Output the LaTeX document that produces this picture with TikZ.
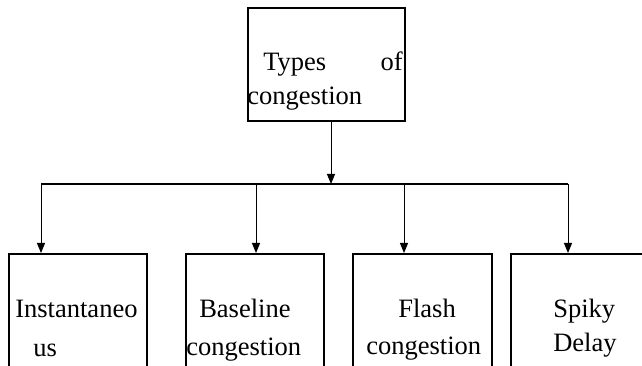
\documentclass[tikz,border=0pt]{standalone}
\usepackage{fontspec}
\setmainfont{Liberation Serif}
\usepackage{tikz}
\usetikzlibrary{arrows.meta, positioning, calc}

\begin{document}
\begin{tikzpicture}[x=0.75pt, y=-0.75pt,
	font=\fontsize{19.9}{24}\selectfont,
	box/.style={draw, line width=1.3pt, inner sep=0pt, anchor=north west},
	word/.style={inner sep=0pt, anchor=base west},
	drop/.style={draw, line width=0.75pt, -{Triangle[length=7.5pt, width=6pt]}},
	busline/.style={draw, line width=1.2pt}]
	\useasboundingbox (0,0) rectangle (642,366);
	\clip (0,0) rectangle (642,366);

	% boxes
	\node[box, minimum width=117.75pt, minimum height=84.75pt] (types) at (247,7) {};
	\node[box, minimum width=103.5pt, minimum height=87.75pt] (inst) at (8,253) {};
	\node[box, minimum width=103.5pt, minimum height=87.75pt] (base) at (185,253) {};
	\node[box, minimum width=104.25pt, minimum height=84.4pt] (flash) at (352,253) {};
	\node[box, minimum width=105pt, minimum height=84.4pt] (spiky) at (510,253) {};

	% texts
	\node[word] (t1) at (263,71) {Types};
	\node[word, anchor=base east] (t2) at (403,71) {of};
	\node[word] (t3) at (247,105) {congestion};
	\node[word] (i1) at (15,318) {Instantaneo};
	\node[word] (i2) at (33,356) {us};
	\node[word] (b1) at (199,318) {Baseline};
	\node[word] (b2) at (186,355) {congestion};
	\node[word] (f1) at (398,318) {Flash};
	\node[word] (f2) at (366,354) {congestion};
	\node[word] (s1) at (553,318) {Spiky};
	\node[word] (s2) at (553,351) {Delay};

	% connectors
	\coordinate (hub) at (331,184);
	\coordinate (d1) at (41,184);
	\coordinate (d2) at (256,184);
	\coordinate (d3) at (404,184);
	\coordinate (d4) at (568,184);
	\draw[busline] (d1) -- (d4);
	\draw[drop] (types.south -| hub) -- (hub);
	\draw[drop] (d1) -- (d1 |- inst.north);
	\draw[drop] (d2) -- (d2 |- base.north);
	\draw[drop] (d3) -- (d3 |- flash.north);
	\draw[drop] (d4) -- (d4 |- spiky.north);
\end{tikzpicture}
\end{document}
